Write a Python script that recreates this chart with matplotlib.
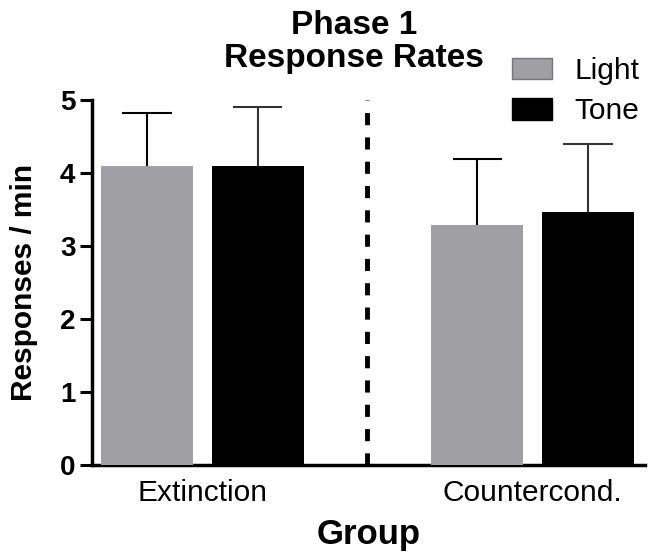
import matplotlib.pyplot as plt
from matplotlib.patches import Patch

plt.rcParams['font.family'] = ['Liberation Sans', 'DejaVu Sans']

groups = ["Extinction", "Countercond."]
light_mean = [4.10, 3.29]
light_err = [0.72, 0.90]
tone_mean = [4.10, 3.47]
tone_err = [0.80, 0.93]

light_color = "#a0a0a4"
tone_color = "#000000"

fig = plt.figure(figsize=(6.54, 5.6), dpi=100)
ax = fig.add_axes([0.1407, 0.1696, 0.8453, 0.6518])

light_x = [0.0, 3.59]
tone_x = [1.2, 4.79]
w = 1.0
cap = 0.27

ax.bar(light_x, light_mean, width=w, color=light_color, zorder=3)
ax.bar(tone_x, tone_mean, width=w, color=tone_color, zorder=3)

# upper error bars only
for xs, m, e, c in [(light_x, light_mean, light_err, 'black'),
                    (tone_x, tone_mean, tone_err, '#333333')]:
    tops = [a + b for a, b in zip(m, e)]
    ax.vlines(xs, m, tops, color=c, lw=1.5, zorder=2)
    ax.hlines(tops, [x - cap for x in xs], [x + cap for x in xs], color=c, lw=1.5, zorder=2)

# divider between groups
ax.axvline(2.39, ymin=0, ymax=1, color='black', lw=3.5, ls=(0, (2.5, 2.5)))

ax.set_xlim(-0.6, 5.41)
ax.set_ylim(0, 5)
ax.set_yticks([0, 1, 2, 3, 4, 5])
ax.set_yticklabels(["0", "1", "2", "3", "4", "5"], fontsize=20, fontweight='bold')
ax.set_xticks([0.6, 4.19])
ax.set_xticklabels(groups, fontsize=21.5)
ax.tick_params(axis='x', length=0, pad=10)
ax.tick_params(axis='y', length=9, width=2.2, pad=3)

for s in ['top', 'right']:
    ax.spines[s].set_visible(False)
for s in ['left', 'bottom']:
    ax.spines[s].set_linewidth(2.5)

ax.set_ylabel("Responses / min", fontsize=21.5, fontweight='bold', labelpad=16)
ax.set_xlabel("Group", fontsize=25, fontweight='bold', labelpad=8)

fig.text(354 / 654, 1 - 42 / 560, "Phase 1\nResponse Rates", ha='center', va='center',
         fontsize=24, fontweight='bold', linespacing=1.1)

handles = [Patch(facecolor=light_color, edgecolor='#777777', label='Light'),
           Patch(facecolor=tone_color, edgecolor='black', label='Tone')]
fig.legend(handles=handles, loc='upper left', bbox_to_anchor=(500 / 654, 1 - 45 / 560),
           frameon=False, fontsize=21.5, handlelength=1.35, handleheight=0.75,
           handletextpad=0.75, labelspacing=0.42, borderaxespad=0)

fig.savefig("out.png", dpi=100)
